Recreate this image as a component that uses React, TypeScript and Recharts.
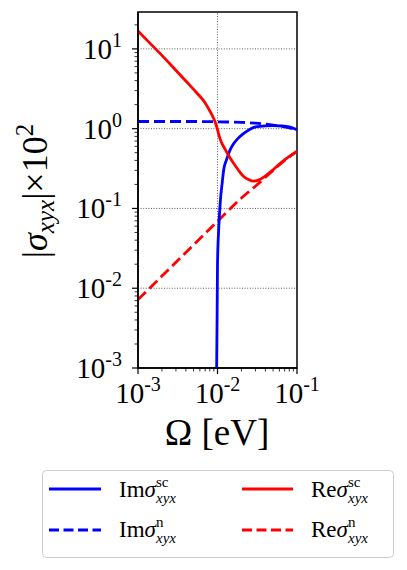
import React from "react";
import { LineChart, Line, XAxis, YAxis, ReferenceLine, ReferenceArea, Label } from "recharts";

// ---- data ----
const imScX = [0.00975, 0.0099, 0.01, 0.0104, 0.0109, 0.0114, 0.012, 0.013, 0.0145, 0.016, 0.018, 0.021, 0.025, 0.03, 0.04, 0.05, 0.065, 0.08, 0.1];
const imScY = [0.0009, 0.005, 0.02, 0.06, 0.13, 0.2, 0.31, 0.41, 0.55, 0.65, 0.75, 0.86, 0.97, 1.05, 1.085, 1.09, 1.08, 1.05, 0.97];

const reScX = [0.001, 0.0014, 0.002, 0.0028, 0.004, 0.0055, 0.007, 0.008, 0.0089, 0.0096, 0.01, 0.0103, 0.0108, 0.0115, 0.0125, 0.0138, 0.0157, 0.018, 0.021, 0.025, 0.028, 0.032, 0.04, 0.05, 0.065, 0.08, 0.1];
const reScY = [16.8, 11.9, 8.3, 5.8, 3.95, 2.8, 2.1, 1.67, 1.36, 1.12, 0.97, 0.87, 0.74, 0.64, 0.55, 0.46, 0.376, 0.31, 0.255, 0.228, 0.22, 0.225, 0.255, 0.305, 0.385, 0.45, 0.52];

const imNX = [0.001, 0.005, 0.01, 0.015, 0.02, 0.03, 0.04, 0.05, 0.07, 0.1];
const imNY = [1.23, 1.23, 1.22, 1.21, 1.2, 1.17, 1.14, 1.11, 1.05, 0.97];

const reNX = [0.001, 0.002, 0.005, 0.01, 0.02, 0.03, 0.05, 0.07, 0.1];
const reNY = [0.0072, 0.0142, 0.035, 0.069, 0.135, 0.19, 0.3, 0.4, 0.52];

const xMajor = [0.001, 0.01, 0.1];
const yMajor = [0.001, 0.01, 0.1, 1, 10];
const xDomain: [number, number] = [0.001, 0.1];
const yDomain: [number, number] = [0.001, 29];

const mk = (xs: number[], ys: number[]) => xs.map((x, i) => ({ x, y: ys[i] }));
const imScData = mk(imScX, imScY);
const reScData = mk(reScX, reScY);
const imNData = mk(imNX, imNY);
const reNData = mk(reNX, reNY);

const minorOf = (majors: number[], max: number) => {
  const out: number[] = [];
  majors.forEach((m) => {
    for (let k = 1; k <= 9; k++) {
      const v = +(m * k).toPrecision(6);
      if (v <= max + 1e-12) out.push(v);
    }
  });
  return out;
};
const xTicks = minorOf(xMajor.slice(0, 2), 0.1).concat([0.1]);
const yTicks = minorOf(yMajor, 29);

const isMajor = (v: number) => Math.abs(Math.log10(v) - Math.round(Math.log10(v))) < 1e-6;
const FONT = '"Liberation Serif", "Times New Roman", "DejaVu Serif", "Noto Serif", serif';
const fs = (size: number, italic = false): React.CSSProperties => ({
  fontFamily: FONT,
  fontSize: size,
  fontStyle: italic ? "italic" : "normal",
});

const XTick = (props: any) => {
  const { x, y, payload } = props;
  const v = payload.value;
  const major = isMajor(v);
  const e = Math.round(Math.log10(v));
  return (
    <g>
      <line x1={x} x2={x} y1={y} y2={y + (major ? 6 : 3.5)} stroke="#000" strokeWidth={major ? 1.2 : 0.8} />
      {major && (
        <text x={x} y={y + 35} textAnchor="middle" style={fs(29)} fill="#000">
          10<tspan dy={-12} style={fs(20)}>{e}</tspan>
        </text>
      )}
    </g>
  );
};

const YTick = (props: any) => {
  const { x, y, payload } = props;
  const v = payload.value;
  const major = isMajor(v);
  const e = Math.round(Math.log10(v));
  return (
    <g>
      <line x1={x} x2={x - (major ? 6 : 3.5)} y1={y} y2={y} stroke="#000" strokeWidth={major ? 1.2 : 0.8} />
      {major && (
        <text x={x - 16} y={y + 10} textAnchor="end" style={fs(29)} fill="#000">
          10<tspan dy={-12} style={fs(20)}>{e}</tspan>
        </text>
      )}
    </g>
  );
};

const gridStyle = { stroke: "#333", strokeWidth: 0.8, strokeDasharray: "1 1.6" };

const LegendEntry = ({ x, y, pre, sup }: { x: number; y: number; pre: string; sup: string }) => (
  <text x={x} y={y} style={fs(23)} fill="#000">
    {pre}
    <tspan style={fs(23, true)}>σ</tspan>
    <tspan x={x + 37} dy={-10} style={fs(15)}>{sup}</tspan>
    <tspan x={x + 37} dy={16} style={fs(15, true)}>xyx</tspan>
  </text>
);

const Legend = () => (
  <svg width={407} height={570} style={{ position: "absolute", left: 0, top: 0, pointerEvents: "none" }}>
    <rect x={42.5} y={470.5} width={351} height={87} rx={4} fill="#fff" stroke="#ccc" strokeWidth={1} />
    <line x1={49} x2={101} y1={489} y2={489} stroke="#0000ff" strokeWidth={2.8} />
    <line x1={49} x2={101} y1={530} y2={530} stroke="#0000ff" strokeWidth={2.8} strokeDasharray="10 4.5" />
    <line x1={242} x2={293} y1={489} y2={489} stroke="#ff0000" strokeWidth={2.8} />
    <line x1={242} x2={293} y1={530} y2={530} stroke="#ff0000" strokeWidth={2.8} strokeDasharray="10 4.5" />
    <LegendEntry x={119} y={497} pre="Im" sup="sc" />
    <LegendEntry x={119} y={537} pre="Im" sup="n" />
    <LegendEntry x={311} y={497} pre="Re" sup="sc" />
    <LegendEntry x={311} y={537} pre="Re" sup="n" />
  </svg>
);

export default function App() {
  return (
    <div style={{ position: "absolute", left: 0, top: 0, width: 407, height: 570, background: "#fff" }}>
      <LineChart width={407} height={570} margin={{ top: 12, right: 110, left: 0, bottom: 0 }}>
        <XAxis
          dataKey="x"
          type="number"
          scale="log"
          domain={xDomain}
          allowDataOverflow
          ticks={xTicks}
          interval={0}
          tick={<XTick />}
          tickLine={false}
          tickSize={0}
          tickMargin={0}
          height={202}
          axisLine={{ stroke: "#000", strokeWidth: 1.5 }}
        >
          <Label
            content={() => (
              <text x={217} y={445} textAnchor="middle" style={fs(37)} fill="#000">
                Ω [eV]
              </text>
            )}
          />
        </XAxis>
        <YAxis
          dataKey="y"
          type="number"
          scale="log"
          domain={yDomain}
          allowDataOverflow
          ticks={yTicks}
          interval={0}
          tick={<YTick />}
          tickLine={false}
          tickSize={0}
          tickMargin={0}
          width={138}
          axisLine={{ stroke: "#000", strokeWidth: 1.5 }}
        >
          <Label
            content={() => (
              <text transform="translate(47,191) rotate(-90)" textAnchor="middle" style={fs(36)} fill="#000">
                |<tspan style={fs(36, true)}>σ</tspan>
                <tspan style={fs(25, true)} dy={7}>xyx</tspan>
                <tspan dy={-7}>|×10</tspan>
                <tspan style={fs(25)} dy={-14}>2</tspan>
              </text>
            )}
          />
        </YAxis>
        <ReferenceLine x={0.01} {...gridStyle} />
        {yMajor.slice(1).map((v) => (
          <ReferenceLine key={v} y={v} {...gridStyle} />
        ))}
        <Line data={imNData} dataKey="y" type="monotone" stroke="#0000ff" strokeWidth={2.8} strokeDasharray="11 5" dot={false} isAnimationActive={false} />
        <Line data={reNData} dataKey="y" type="monotone" stroke="#ff0000" strokeWidth={2.8} strokeDasharray="11 5" dot={false} isAnimationActive={false} />
        <Line data={imScData} dataKey="y" type="monotone" stroke="#0000ff" strokeWidth={2.8} dot={false} isAnimationActive={false} />
        <Line data={reScData} dataKey="y" type="monotone" stroke="#ff0000" strokeWidth={2.8} dot={false} isAnimationActive={false} />
        <ReferenceArea x1={0.001} x2={0.1} y1={0.001} y2={29} fill="none" stroke="#000" strokeWidth={1.5} ifOverflow="visible" />
      </LineChart>
      <Legend />
    </div>
  );
}
